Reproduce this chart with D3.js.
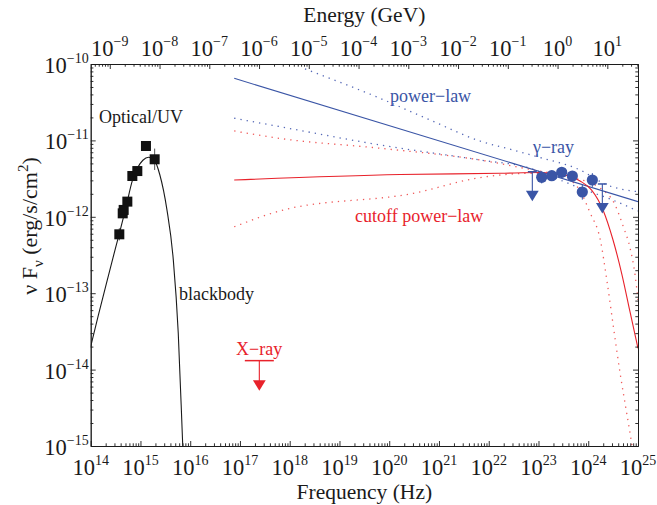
<!DOCTYPE html>
<html>
<head>
<meta charset="utf-8">
<script src="https://cdn.jsdelivr.net/npm/d3@7"></script>
<style>
  body { margin: 0; background: #fff; }
  text { font-family: "Liberation Serif", "Times New Roman", serif; fill: #1a1a1a; }
</style>
</head>
<body>
<svg id="chart" width="657" height="505"></svg>
<script>
// Optical/UV photometry (Hz, erg/s/cm^2) and errors in dex
const optFreq = [3.76e14, 4.40e14, 4.60e14, 5.45e14, 6.87e14, 8.65e14, 1.29e15, 1.93e15];
const optFlux = [5.90e-13, 1.11e-12, 1.23e-12, 1.58e-12, 3.42e-12, 3.97e-12, 8.45e-12, 5.66e-12];
const optErr = [0.08, 0.06, 0.05, 0.04, 0.03, 0.03, 0.0, 0.14];

// blackbody fit
const bbFreq = [1.0e14, 1.41e14, 2.0e14, 2.82e14, 3.76e14, 5.01e14, 6.92e14, 8.91e14, 1.12e15,
  1.45e15, 1.86e15, 2.45e15, 3.39e15, 4.57e15, 5.75e15, 7.08e15, 7.94e15];
const bbFlux = [2.0e-14, 5.0e-14, 1.23e-13, 2.95e-13, 6.03e-13, 1.26e-12, 3.02e-12, 4.47e-12, 5.50e-12,
  6.03e-12, 5.62e-12, 3.55e-12, 1.26e-12, 2.75e-13, 3.02e-14, 1.0e-15, 1.58e-16];

// X-ray upper limit
const xrayFreq = [2.45e17];
const xrayFlux = [1.31e-14];

// gamma-ray detections and upper limits
const gamFreq = [1.16e23, 1.85e23, 2.93e23, 4.79e23, 7.60e23, 1.21e24];
const gamFlux = [3.29e-12, 3.45e-12, 3.82e-12, 3.42e-12, 2.11e-12, 3.03e-12];
const gamErr = [0.08, 0.06, 0.07, 0.06, 0.10, 0.09];
const gamUlFreq = [7.52e22, 1.92e24];
const gamUlFlux = [3.89e-12, 2.69e-12];

// power-law model and its uncertainty band
const plFreq = [7.66e16, 1.0e25];
const plFlux = [6.50e-11, 1.58e-12];
const plHiFreq = [2.03e18, 6.53e19, 6.61e20, 6.68e21, 3.08e22, 9.80e22, 6.84e23, 2.39e24, 1.0e25];
const plHiFlux = [8.61e-11, 3.56e-11, 1.85e-11, 9.82e-12, 7.48e-12, 6.07e-12, 4.10e-12, 2.61e-12, 2.13e-12];
const plLoFreq = [7.66e16, 6.44e17, 6.59e19, 6.75e21, 6.82e22, 2.17e23, 6.84e23, 2.74e24, 1.0e25];
const plLoFlux = [1.95e-11, 1.51e-11, 8.71e-12, 5.53e-12, 4.32e-12, 3.22e-12, 2.38e-12, 1.71e-12, 1.19e-12];

// cutoff power-law model and its uncertainty band
const cpFreq = [7.66e16, 1.65e20, 1.69e22, 1.07e23, 3.42e23, 6.84e23, 1.17e24, 1.98e24,
  3.15e24, 4.78e24, 6.92e24, 1.0e25];
const cpFlux = [3.03e-12, 3.58e-12, 3.71e-12, 3.80e-12, 3.52e-12, 2.94e-12, 2.24e-12, 1.23e-12,
  4.97e-13, 1.73e-13, 5.68e-14, 1.9e-14];
const cpHiFreq = [7.66e16, 6.44e17, 6.59e19, 6.75e21, 7.76e22, 4.31e23, 1.73e24, 3.46e24,
  5.07e24, 6.92e24, 8.73e24, 1.0e25];
const cpHiFlux = [1.33e-11, 1.06e-11, 7.89e-12, 5.53e-12, 4.10e-12, 3.32e-12, 2.38e-12, 1.43e-12,
  7.41e-13, 3.91e-13, 1.73e-13, 8.15e-14];
const cpLoFreq = [7.66e16, 7.52e17, 3.05e20, 6.75e21, 6.82e22, 2.74e23, 6.30e23, 1.10e24,
  1.75e24, 2.36e24, 3.20e24, 4.37e24, 5.94e24, 6.92e24, 7.94e24];
const cpLoFlux = [7.41e-13, 1.23e-12, 2.03e-12, 3.26e-12, 3.71e-12, 3.42e-12, 2.38e-12, 1.11e-12,
  4.97e-13, 1.49e-13, 3.65e-14, 8.95e-15, 2.68e-15, 1.47e-15, 8.3e-16];

const xTickExps = d3.range(14, 26);
const yTickExps = d3.range(-15, -9);
const eTickExps = d3.range(-9, 2);

const H_GEV = 4.1357e-24; // Planck constant, GeV s

const colors = {
  ink: '#1a1a1a',
  blue: '#3a55a6',
  blueDot: '#5468b6',
  red: '#e8222b',
  redDot: '#f05a5a',
};

const svg = d3.select('#chart');
const PLOT_L = 90.7, PLOT_R = 638, PLOT_T = 64, PLOT_B = 446;

const x = d3.scaleLog().domain([1e14, 1e25]).range([PLOT_L, PLOT_R]);
const y = d3.scaleLog().domain([1e-15, 1e-10]).range([PLOT_B, PLOT_T]);
const xE = d3.scaleLog().domain([H_GEV * 1e14, H_GEV * 1e25]).range([PLOT_L, PLOT_R]);

function logTicks(lo, hi, scale) {
  const [d0, d1] = scale.domain();
  const major = [], minor = [];
  for (let k = lo; k <= hi; k++) {
    for (let m = 1; m < 10; m++) {
      const v = m * Math.pow(10, k);
      if (v < d0 * 0.999 || v > d1 * 1.001) continue;
      (m === 1 ? major : minor).push(v);
    }
  }
  return { major, minor };
}

function drawAxis(axisFn, scale, ticks, transform) {
  [[ticks.minor, 2.7], [ticks.major, 5]].forEach(([vals, len]) => {
    svg.append('g')
      .attr('transform', transform)
      .style('color', colors.ink)
      .call(axisFn(scale).tickValues(vals).tickSize(-len).tickSizeOuter(0).tickFormat(''))
      .call((g) => g.selectAll('path, line').attr('stroke-width', 0.9));
  });
}

const xTicks = logTicks(14, 25, x);
const yTicks = logTicks(-15, -10, y);
const eTicks = logTicks(-10, 1, xE);

// clipping for the plotted curves
svg.append('clipPath').attr('id', 'plot-clip')
  .append('rect').attr('x', PLOT_L).attr('y', PLOT_T)
  .attr('width', PLOT_R - PLOT_L).attr('height', PLOT_B - PLOT_T);
const plot = svg.append('g').attr('clip-path', 'url(#plot-clip)');

const line = d3.line().x((d) => x(d[0])).y((d) => y(d[1])).curve(d3.curveMonotoneX);
const zip = (a, b) => a.map((v, i) => [v, b[i]]);

function curve(freqs, fluxes, color, dotted) {
  plot.append('path')
    .attr('d', line(zip(freqs, fluxes)))
    .attr('fill', 'none')
    .attr('stroke', color)
    .attr('stroke-width', dotted ? 1.3 : 1.1)
    .attr('stroke-dasharray', dotted ? '1.3,5' : null);
}

curve(plHiFreq, plHiFlux, colors.blueDot, true);
curve(plLoFreq, plLoFlux, colors.blueDot, true);
curve(cpHiFreq, cpHiFlux, colors.redDot, true);
curve(cpLoFreq, cpLoFlux, colors.redDot, true);
curve(bbFreq, bbFlux, colors.ink, false);
curve(plFreq, plFlux, colors.blue, false);
curve(cpFreq, cpFlux, colors.red, false);

// optical error bars and squares
optFreq.forEach((f, i) => {
  const v = optFlux[i], e = optErr[i];
  if (e > 0) {
    svg.append('line')
      .attr('x1', x(f)).attr('x2', x(f))
      .attr('y1', y(v * Math.pow(10, e))).attr('y2', y(v / Math.pow(10, e)))
      .attr('stroke', '#555').attr('stroke-width', 1);
  }
});
svg.selectAll('rect.opt')
  .data(zip(optFreq, optFlux))
  .join('rect')
  .attr('class', 'opt')
  .attr('x', (d) => x(d[0]) - 5)
  .attr('y', (d) => y(d[1]) - 5)
  .attr('width', 10).attr('height', 10)
  .attr('fill', '#111');

// gamma error bars and circles
gamFreq.forEach((f, i) => {
  const v = gamFlux[i], e = gamErr[i];
  svg.append('line')
    .attr('x1', x(f)).attr('x2', x(f))
    .attr('y1', y(v * Math.pow(10, e))).attr('y2', y(v / Math.pow(10, e)))
    .attr('stroke', colors.blue).attr('stroke-width', 1);
});
svg.selectAll('circle.gam')
  .data(zip(gamFreq, gamFlux))
  .join('circle')
  .attr('class', 'gam')
  .attr('cx', (d) => x(d[0]))
  .attr('cy', (d) => y(d[1]))
  .attr('r', 5.6)
  .attr('fill', colors.blue);

function upperLimit(f, v, color, halfBar, shaft) {
  const cx = x(f), cy = y(v);
  const g = svg.append('g');
  g.append('line').attr('x1', cx - halfBar).attr('x2', cx + halfBar)
    .attr('y1', cy).attr('y2', cy).attr('stroke', color).attr('stroke-width', 1.5);
  g.append('line').attr('x1', cx).attr('x2', cx)
    .attr('y1', cy).attr('y2', cy + shaft - 8).attr('stroke', color).attr('stroke-width', 1.1);
  g.append('path')
    .attr('d', `M${cx - 6.4},${cy + shaft - 10.5}L${cx + 6.4},${cy + shaft - 10.5}L${cx},${cy + shaft}Z`)
    .attr('fill', color);
}
gamUlFreq.forEach((f, i) => upperLimit(f, gamUlFlux[i], colors.blue, 4.5, 29.5));
xrayFreq.forEach((f, i) => upperLimit(f, xrayFlux[i], colors.red, 14.5, 30));

// axes
drawAxis(d3.axisBottom, x, xTicks, `translate(0,${PLOT_B})`);
drawAxis(d3.axisTop, xE, eTicks, `translate(0,${PLOT_T})`);
drawAxis(d3.axisLeft, y, yTicks, `translate(${PLOT_L},0)`);
drawAxis(d3.axisRight, y, yTicks, `translate(${PLOT_R},0)`);

function powLabel(px, py, exp, anchor) {
  const t = svg.append('text')
    .attr('x', px).attr('y', py)
    .attr('text-anchor', anchor)
    .attr('font-size', 22.5);
  t.append('tspan').text('10');
  t.append('tspan').attr('font-size', 14).attr('dy', -10)
    .text(exp < 0 ? '\u2212' + -exp : String(exp));
}

xTickExps.forEach((k) => powLabel(x(Math.pow(10, k)), 475, k, 'middle'));
eTickExps.forEach((k) => powLabel(xE(Math.pow(10, k)), 56, k, 'middle'));
yTickExps.forEach((k) => powLabel(PLOT_L - 2, y(Math.pow(10, k)) + 9, k, 'end'));

// axis titles
svg.append('text')
  .attr('x', (PLOT_L + PLOT_R) / 2).attr('y', 499)
  .attr('text-anchor', 'middle').attr('font-size', 21.5)
  .text('Frequency (Hz)');
svg.append('text')
  .attr('x', (PLOT_L + PLOT_R) / 2).attr('y', 22)
  .attr('text-anchor', 'middle').attr('font-size', 21.5)
  .text('Energy (GeV)');

const yTitle = svg.append('text')
  .attr('transform', 'translate(37,226) rotate(-90)')
  .attr('text-anchor', 'middle').attr('font-size', 22);
yTitle.append('tspan').text('\u03bd F');
yTitle.append('tspan').attr('font-size', 15).attr('dy', 6).text('\u03bd');
yTitle.append('tspan').attr('dy', -6).text(' (erg/s/cm');
yTitle.append('tspan').attr('font-size', 15).attr('dy', -9).text('2');
yTitle.append('tspan').attr('dy', 9).text(')');

// annotations
const notes = [
  { text: 'Optical/UV', x: 99, y: 123, color: colors.ink },
  { text: 'blackbody', x: 179, y: 300, color: colors.ink },
  { text: 'power\u2212law', x: 390, y: 102, color: colors.blue },
  { text: 'cutoff power\u2212law', x: 355, y: 222, color: colors.red },
  { text: '\u03b3\u2212ray', x: 533, y: 153, color: colors.blue },
  { text: 'X\u2212ray', x: 236, y: 355, color: colors.red },
];
svg.selectAll('text.note')
  .data(notes)
  .join('text')
  .attr('class', 'note')
  .attr('x', (d) => d.x).attr('y', (d) => d.y)
  .attr('font-size', 18)
  .style('fill', (d) => d.color)
  .text((d) => d.text);
</script>
</body>
</html>
